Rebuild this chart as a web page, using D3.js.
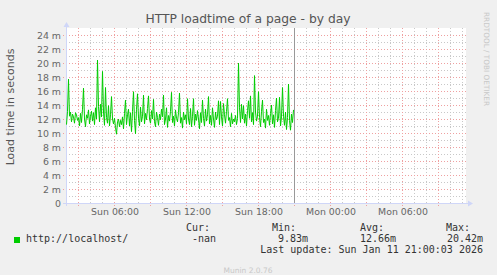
<!DOCTYPE html>
<html>
<head>
<meta charset="utf-8">
<script src="https://cdn.jsdelivr.net/npm/d3@7"></script>
<style>
    body { margin: 0; background: #F0F0F0; }
    svg { display: block; font-family: 'DejaVu Sans', sans-serif; }
    .mono { font-family: 'DejaVu Sans Mono', monospace; font-size: 10px; fill: #333; }
</style>
</head>
<body>
<div id="chart"></div>
<script>
//Datos (una muestra cada 5 minutos desde Sun 02:00)
const START = new Date(2026, 0, 11, 2, 0),
    END = new Date(2026, 0, 12, 11, 20),
    NOW = new Date(2026, 0, 11, 21, 0);

const loadtime = [
    11.2, 13.1, 17.7, 12.4, 13.0, 11.6, 12.7, 12.3, 11.4, 12.9, 12.6, 11.8,
    12.2, 11.0, 12.8, 11.5, 13.4, 16.4, 12.0, 10.9, 12.6, 12.1, 13.3, 11.3,
    12.4, 13.1, 11.7, 12.9, 11.2, 13.6, 12.0, 20.42, 13.8, 11.6, 14.1, 12.3,
    18.8, 13.0, 11.1, 16.5, 12.2, 11.4, 13.9, 11.0, 12.6, 15.2, 12.0, 11.3,
    12.1, 10.8, 9.83, 11.6, 12.0, 10.9, 11.8, 11.2, 12.3, 10.6, 12.8, 14.7,
    11.2, 12.6, 13.4, 11.0, 12.9, 10.2, 13.1, 15.9, 11.8, 9.9, 13.4, 15.6,
    12.1, 11.0, 13.7, 11.6, 12.4, 15.4, 11.3, 12.8, 11.9, 13.5, 15.3, 12.0,
    11.4, 13.2, 12.0, 14.8, 11.6, 10.9, 13.0, 12.2, 11.1, 12.7, 11.9, 13.4,
    12.3, 15.4, 11.2, 12.0, 13.6, 10.8, 12.5, 11.7, 13.1, 15.8, 11.5, 12.4,
    11.0, 13.3, 12.1, 11.6, 12.9, 15.7, 11.4, 12.2, 10.7, 13.0, 11.9, 12.6,
    11.3, 14.9, 12.0, 11.2, 13.5, 10.9, 12.4, 14.9, 11.1, 12.7, 11.8, 13.2,
    12.0, 10.6, 12.9, 11.5, 14.7, 12.1, 11.0, 13.4, 11.7, 12.6, 15.2, 11.3,
    12.5, 11.1, 13.6, 12.0, 10.8, 13.0, 11.9, 12.4, 14.6, 11.2, 14.5, 12.3,
    11.0, 14.2, 12.6, 11.4, 13.1, 14.9, 11.8, 12.2, 10.9, 12.8, 11.3, 12.0,
    11.6, 12.5, 11.2, 12.1, 20.0, 13.6, 11.5, 14.1, 12.0, 13.9, 11.4, 12.7,
    11.0, 13.2, 14.6, 12.1, 15.3, 11.6, 12.9, 11.2, 18.2, 13.0, 11.7, 12.4,
    15.9, 12.2, 10.9, 13.1, 14.7, 11.5, 12.0, 10.7, 13.4, 11.8, 12.5, 11.1,
    12.8, 14.0, 11.3, 12.6, 10.8, 13.2, 15.0, 11.6, 12.1, 15.1, 11.0, 12.3,
    16.5, 12.4, 11.1, 13.0, 10.5, 12.2, 17.0, 11.8, 10.4, 12.7, 11.5, 13.3
];

const yTicks = [0, 2, 4, 6, 8, 10, 12, 14, 16, 18, 20, 22, 24];
const xTicks = [
    new Date(2026, 0, 11, 6, 0), new Date(2026, 0, 11, 12, 0), new Date(2026, 0, 11, 18, 0),
    new Date(2026, 0, 12, 0, 0), new Date(2026, 0, 12, 6, 0)
];

const legendHeads = ['Cur:', 'Min:', 'Avg:', 'Max:'];
const legendValues = ['-nan', '9.83m', '12.66m', '20.42m'];

//Colores fijos
const COLOR_LINE = '#00CC00',
    COLOR_AXIS = '#CFD6F8',
    COLOR_MGRID = '#EFA0A0',
    COLOR_GRID = '#C8C8C8',
    COLOR_FONT = '#666666';

let width = 497, height = 275;
let svg = d3.select('#chart').append('svg')
    .attr('width', width)
    .attr('height', height);

let x = d3.scaleTime().domain([START, END]).range([66, 466]);
let y = d3.scaleLinear().domain([0, 25]).range([203, 28]);

let data = loadtime.map(function(v, i) {
    return { date: new Date(START.getTime() + i * 300000), value: v };
});

//Fondo del gráfico
svg.append('rect')
    .attr('x', x(START)).attr('y', y(25))
    .attr('width', x(END) - x(START)).attr('height', y(0) - y(25))
    .attr('fill', '#FFFFFF');

//Rejilla menor
let grid = svg.append('g');
grid.selectAll('.hgrid')
    .data(d3.range(1, 25).filter(function(d) { return d % 2 != 0; }))
    .enter().append('line')
    .attr('x1', x(START)).attr('x2', x(END))
    .attr('y1', function(d) { return y(d) + 0.5; })
    .attr('y2', function(d) { return y(d) + 0.5; })
    .attr('stroke', COLOR_GRID).attr('stroke-dasharray', '1,2');

grid.selectAll('.vgrid')
    .data(d3.timeHour.every(1).range(START, END).filter(function(d) { return d.getHours() % 3 != 0; }))
    .enter().append('line')
    .attr('x1', function(d) { return Math.round(x(d)) + 0.5; })
    .attr('x2', function(d) { return Math.round(x(d)) + 0.5; })
    .attr('y1', y(0)).attr('y2', y(25))
    .attr('stroke', COLOR_GRID).attr('stroke-dasharray', '1,2');

//Rejilla mayor
grid.selectAll('.hmgrid')
    .data(yTicks.filter(function(d) { return d > 0; }))
    .enter().append('line')
    .attr('x1', x(START) - 3).attr('x2', x(END))
    .attr('y1', function(d) { return y(d) + 0.5; })
    .attr('y2', function(d) { return y(d) + 0.5; })
    .attr('stroke', COLOR_MGRID).attr('stroke-dasharray', '1,2');

grid.selectAll('.vmgrid')
    .data(d3.timeHour.every(3).range(START, END))
    .enter().append('line')
    .attr('x1', function(d) { return Math.round(x(d)) + 0.5; })
    .attr('x2', function(d) { return Math.round(x(d)) + 0.5; })
    .attr('y1', y(0) + 3).attr('y2', y(25))
    .attr('stroke', COLOR_MGRID).attr('stroke-dasharray', '1,2');

//Ejes
svg.append('line')
    .attr('x1', x(START) - 3).attr('x2', x(END) + 2)
    .attr('y1', y(0) + 0.5).attr('y2', y(0) + 0.5)
    .attr('stroke', COLOR_AXIS);
svg.append('line')
    .attr('x1', x(START) + 0.5).attr('x2', x(START) + 0.5)
    .attr('y1', y(0) + 3).attr('y2', y(25) - 2)
    .attr('stroke', COLOR_AXIS);
svg.append('path')
    .attr('d', 'M' + (x(END) + 7) + ',' + (y(0) + 0.5) + 'l-5,-3v6z')
    .attr('fill', COLOR_AXIS);
svg.append('path')
    .attr('d', 'M' + (x(START) + 0.5) + ',' + (y(25) - 6) + 'l-3,5h6z')
    .attr('fill', COLOR_AXIS);

//Etiquetas eje Y
svg.append('g').selectAll('text')
    .data(yTicks)
    .enter().append('text')
    .attr('x', 61)
    .attr('y', function(d) { return y(d) + 3.5; })
    .attr('text-anchor', 'end')
    .attr('font-size', '9.4px')
    .attr('fill', COLOR_FONT)
    .text(function(d) { return d == 0 ? '0' : d + ' m'; });

//Etiquetas eje X
let fmt = d3.timeFormat('%a %H:%M');
svg.append('g').selectAll('text')
    .data(xTicks)
    .enter().append('text')
    .attr('x', function(d) { return x(d) + 1; })
    .attr('y', 215)
    .attr('text-anchor', 'middle')
    .attr('font-size', '9.4px')
    .attr('fill', COLOR_FONT)
    .text(function(d) { return fmt(d); });

//Serie
let line = d3.line()
    .x(function(d) { return x(d.date) + 0.5; })
    .y(function(d) { return y(d.value); });

svg.append('path')
    .datum(data)
    .attr('d', line)
    .attr('fill', 'none')
    .attr('stroke', COLOR_LINE)
    .attr('stroke-width', 1);

//Línea del momento actual
svg.append('line')
    .attr('x1', Math.round(x(NOW)) + 0.5).attr('x2', Math.round(x(NOW)) + 0.5)
    .attr('y1', y(0)).attr('y2', y(25))
    .attr('stroke', '#999999');

//Títulos
svg.append('text')
    .attr('x', 248).attr('y', 23)
    .attr('text-anchor', 'middle')
    .attr('font-size', '12.3px')
    .attr('fill', '#555555')
    .text('HTTP loadtime of a page - by day');

svg.append('text')
    .attr('transform', 'translate(14,107) rotate(-90)')
    .attr('text-anchor', 'middle')
    .attr('font-size', '11px')
    .attr('fill', '#555555')
    .text('Load time in seconds');

svg.append('text')
    .attr('transform', 'translate(484,12) rotate(90)')
    .attr('font-size', '7.3px')
    .attr('fill', '#C8C8C8')
    .text('RRDTOOL / TOBI OETIKER');

//Leyenda
svg.append('rect')
    .attr('x', 14).attr('y', 237)
    .attr('width', 6).attr('height', 6)
    .attr('fill', COLOR_LINE);

svg.append('text').attr('class', 'mono')
    .attr('x', 26).attr('y', 242)
    .text('http://localhost/');

let headX = [186, 272, 360, 446],
    valEnd = [216, 308, 396, 483];

svg.append('g').selectAll('text')
    .data(legendHeads)
    .enter().append('text').attr('class', 'mono')
    .attr('x', function(d, i) { return headX[i]; })
    .attr('y', 231)
    .text(function(d) { return d; });

svg.append('g').selectAll('text')
    .data(legendValues)
    .enter().append('text').attr('class', 'mono')
    .attr('x', function(d, i) { return valEnd[i]; })
    .attr('y', 242)
    .attr('text-anchor', 'end')
    .text(function(d) { return d; });

svg.append('text').attr('class', 'mono')
    .attr('x', 483).attr('y', 253)
    .attr('text-anchor', 'end')
    .text('Last update: Sun Jan 11 21:00:03 2026');

svg.append('text')
    .attr('x', 248).attr('y', 273)
    .attr('text-anchor', 'middle')
    .attr('font-size', '7.5px')
    .attr('fill', '#C8C8C8')
    .text('Munin 2.0.76');
</script>
</body>
</html>
